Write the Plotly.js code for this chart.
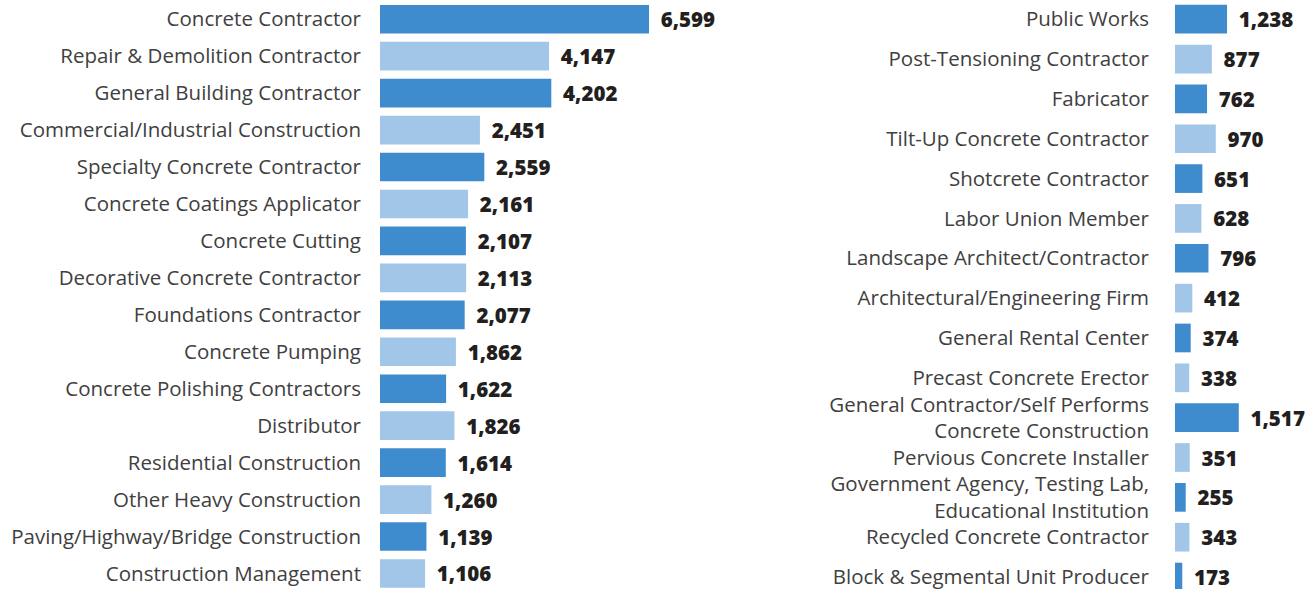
<!DOCTYPE html>
<html>
<head>
<meta charset="utf-8">
<script src="https://cdn.plot.ly/plotly-3.0.1.min.js"></script>
<style>html,body{margin:0;padding:0;background:#fff;}#chart{width:1315px;height:589px;}</style>
</head>
<body>
<div id="chart"></div>
<script>
const leftCategories = [
  "Concrete Contractor",
  "Repair & Demolition Contractor",
  "General Building Contractor",
  "Commercial/Industrial Construction",
  "Specialty Concrete Contractor",
  "Concrete Coatings Applicator",
  "Concrete Cutting",
  "Decorative Concrete Contractor",
  "Foundations Contractor",
  "Concrete Pumping",
  "Concrete Polishing Contractors",
  "Distributor",
  "Residential Construction",
  "Other Heavy Construction",
  "Paving/Highway/Bridge Construction",
  "Construction Management"
];
const leftValues = [6599, 4147, 4202, 2451, 2559, 2161, 2107, 2113, 2077, 1862, 1622, 1826, 1614, 1260, 1139, 1106];

const rightCategories = [
  "Public Works",
  "Post-Tensioning Contractor",
  "Fabricator",
  "Tilt-Up Concrete Contractor",
  "Shotcrete Contractor",
  "Labor Union Member",
  "Landscape Architect/Contractor",
  "Architectural/Engineering Firm",
  "General Rental Center",
  "Precast Concrete Erector",
  "General Contractor/Self Performs<br>Concrete Construction",
  "Pervious Concrete Installer",
  "Government Agency, Testing Lab,<br>Educational Institution",
  "Recycled Concrete Contractor",
  "Block & Segmental Unit Producer"
];
const rightValues = [1238, 877, 762, 970, 651, 628, 796, 412, 374, 338, 1517, 351, 255, 343, 173];

const DARK = "#3e8cce";
const LIGHT = "#a1c6e8";
const colorsFor = arr => arr.map((_, i) => i % 2 === 0 ? DARK : LIGHT);
const fmt = v => "\u00a0\u2009" + v.toLocaleString("en-US");

const valueFont = {family: "Open Sans", size: 20.5, color: "#231f20", weight: 800};
const labelFont = {family: "Open Sans", size: 20.5, color: "#404040"};

const traces = [
  {
    type: "bar", orientation: "h",
    x: leftValues, y: leftCategories,
    xaxis: "x", yaxis: "y",
    marker: {color: colorsFor(leftValues)},
    width: 0.776,
    text: leftValues.map(fmt), textposition: "outside",
    textfont: valueFont, constraintext: "none", cliponaxis: false,
    hoverinfo: "none"
  },
  {
    type: "bar", orientation: "h",
    x: rightValues, y: rightCategories,
    xaxis: "x2", yaxis: "y2",
    marker: {color: colorsFor(rightValues)},
    width: 0.72,
    text: rightValues.map(fmt), textposition: "outside",
    textfont: valueFont, constraintext: "none", cliponaxis: false,
    hoverinfo: "none"
  }
];

const W = 1315;
const layout = {
  width: 1315, height: 589,
  margin: {l: 0, r: 0, t: 0, b: 0},
  paper_bgcolor: "#fff", plot_bgcolor: "#fff",
  showlegend: false,
  font: labelFont,
  xaxis: {domain: [380 / W, 720 / W], range: [0, 8340], visible: false, fixedrange: true},
  yaxis: {
    anchor: "x", type: "category", autorange: false,
    range: [15.42, -0.52],
    categoryorder: "array", categoryarray: leftCategories,
    showgrid: false, zeroline: false, showline: false,
    ticks: "", ticklabelstandoff: 18, tickfont: labelFont
  },
  xaxis2: {domain: [1175 / W, 1], range: [0, 3330], visible: false, fixedrange: true},
  yaxis2: {
    anchor: "x2", type: "category", autorange: false,
    range: [14.3, -0.482],
    categoryorder: "array", categoryarray: rightCategories,
    showgrid: false, zeroline: false, showline: false,
    ticks: "", ticklabelstandoff: 25, tickfont: labelFont
  }
};

Plotly.newPlot("chart", traces, layout, {displayModeBar: false, staticPlot: true});
</script>
</body>
</html>
